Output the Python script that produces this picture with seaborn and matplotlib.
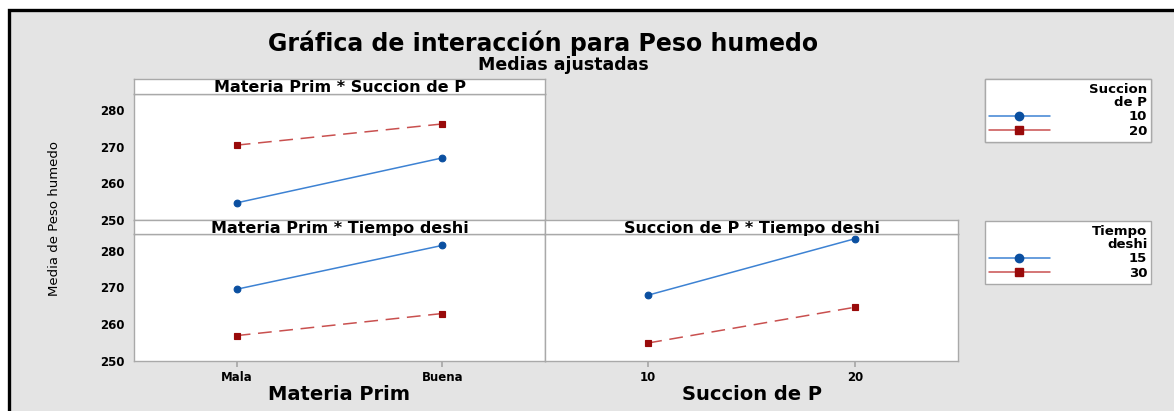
import numpy as np
import pandas as pd
import matplotlib
matplotlib.use("Agg")
import matplotlib.pyplot as plt
import seaborn as sns
from matplotlib.lines import Line2D
from matplotlib.patches import Rectangle

# ==================================================
# DATA (medias ajustadas)
# ==================================================

materia = ["Mala", "Buena"]
succion = ["10", "20"]
tiempo = ["15", "30"]

# Materia Prim * Succion de P
mp_s10 = [254.7, 267.0]
mp_s20 = [270.5, 276.3]

# Materia Prim * Tiempo deshi
mp_t15 = [269.5, 281.4]
mp_t30 = [256.9, 262.9]

# Succion de P * Tiempo deshi
sp_t15 = [267.9, 283.2]
sp_t30 = [254.9, 264.6]

yticks = [250, 260, 270, 280]

# ==================================================
# STYLE
# ==================================================

sns.set_theme(style="white")
plt.rcParams["font.family"] = ["DejaVu Sans"]
plt.rcParams["text.color"] = "black"
plt.rcParams["axes.labelcolor"] = "black"
plt.rcParams["xtick.color"] = "black"
plt.rcParams["ytick.color"] = "black"

W, H = 1174, 411
bg = "#e4e4e4"
frame = "#a9a9a9"
line_cols = ["#3d82d3", "#c9504f"]
mark_cols = ["#0a4fa0", "#990a0a"]


def rect(x0, y0, x1, y1):
    return [x0 / W, 1 - y1 / H, (x1 - x0) / W, (y1 - y0) / H]


def make_df(cats, levels, a, b):
    return pd.DataFrame({
        "x": cats * 2,
        "grupo": [levels[0]] * 2 + [levels[1]] * 2,
        "media": a + b,
    })


def panel(data_rect, head_rect, df, order, hue_order, titulo):
    ax = fig.add_axes(data_rect)
    sns.pointplot(
        data=df, x="x", y="media", hue="grupo",
        order=order, hue_order=hue_order,
        palette=line_cols, markers=["o", "s"],
        linestyles=["-", "--"], errorbar=None,
        legend=False, ax=ax, markersize=4.8, linewidth=1.1,
    )
    for ln, mc in zip(ax.lines, mark_cols):
        ln.set_markerfacecolor(mc)
        ln.set_markeredgecolor(mc)
    ax.lines[1].set_dashes([9, 5])
    ax.set_xlim(-0.5, 1.5)
    ax.set_ylim(250, 284.5)
    ax.set_yticks(yticks)
    ax.set_facecolor("white")
    for s in ax.spines.values():
        s.set_color(frame)
        s.set_linewidth(1)
    ax.set_xlabel("")
    ax.set_ylabel("")
    ax.tick_params(length=4, color=frame, labelsize=8.5, pad=3)
    for t in ax.get_xticklabels() + ax.get_yticklabels():
        t.set_fontweight("bold")

    hd = fig.add_axes(head_rect)
    hd.set_facecolor("white")
    hd.set_xticks([])
    hd.set_yticks([])
    for s in hd.spines.values():
        s.set_color(frame)
        s.set_linewidth(1)
    hd.text(0.5, 0.42, titulo, ha="center", va="center",
            fontsize=11.5, fontweight="bold", transform=hd.transAxes)
    return ax


fig = plt.figure(figsize=(W / 100, H / 100), dpi=100)
fig.patch.set_facecolor("white")

# grey background with black top / left frame
fig.patches.append(Rectangle((9 / W, -0.1), 1.2, 1 - 10.5 / H + 0.1,
                             transform=fig.transFigure, facecolor=bg,
                             edgecolor="black", linewidth=2.4, zorder=-5))

# ==================================================
# PANELS
# ==================================================

ax1 = panel(rect(134, 94, 545, 220), rect(134, 79, 545, 94),
            make_df(materia, succion, mp_s10, mp_s20),
            materia, succion, "Materia Prim * Succion de P")
ax1.tick_params(axis="x", bottom=False, labelbottom=False)

ax2 = panel(rect(134, 234, 545, 361), rect(134, 220, 545, 234),
            make_df(materia, tiempo, mp_t15, mp_t30),
            materia, tiempo, "Materia Prim * Tiempo deshi")
ax2.tick_params(axis="x", bottom=True)
ax2.set_xlabel("Materia Prim", fontsize=14, fontweight="bold", labelpad=1)

ax3 = panel(rect(545, 234, 958, 361), rect(545, 220, 958, 234),
            make_df(succion, tiempo, sp_t15, sp_t30),
            succion, tiempo, "Succion de P * Tiempo deshi")
ax3.tick_params(axis="x", bottom=True)
ax3.tick_params(axis="y", left=False, labelleft=False)
ax3.set_xlabel("Succion de P", fontsize=14, fontweight="bold", labelpad=1)

# ==================================================
# TITLES
# ==================================================

fig.text(543 / W, 1 - 43 / H, "Gráfica de interacción para Peso humedo",
         ha="center", va="center", fontsize=17, fontweight="bold")
fig.text(563 / W, 1 - 64.5 / H, "Medias ajustadas",
         ha="center", va="center", fontsize=12.5, fontweight="bold")
fig.text(55 / W, 1 - 218 / H, "Media de Peso humedo", rotation=90,
         ha="center", va="center", fontsize=9.5)

# ==================================================
# LEGENDS
# ==================================================


def leyenda(levels, titulo, y_top):
    handles = [
        Line2D([0], [0], color=line_cols[i], lw=1.1, marker=m,
               markersize=6, markerfacecolor=mark_cols[i],
               markeredgecolor=mark_cols[i])
        for i, m in enumerate(["o", "s"])
    ]
    lg = fig.legend(handles, levels, title=titulo, loc="upper left",
                    bbox_to_anchor=(985 / W, 1 - y_top / H),
                    borderaxespad=0, handlelength=4.6, handletextpad=6.0,
                    labelspacing=0.1, fontsize=9.5, title_fontsize=9.5,
                    alignment="right", frameon=True, fancybox=False,
                    borderpad=0.3, framealpha=1, facecolor="white")
    lg.get_frame().set_edgecolor(frame)
    lg.get_frame().set_linewidth(1)
    lg.get_title().set_fontweight("bold")
    lg.get_title().set_ha("right")
    lg.get_title().set_linespacing(1.0)
    for t in lg.get_texts():
        t.set_fontweight("bold")
    return lg


fig.add_artist(leyenda(succion, "Succion\nde P", 79))
leyenda(tiempo, "Tiempo\ndeshi", 221)

plt.savefig("out.png", dpi=100, facecolor=fig.get_facecolor())
